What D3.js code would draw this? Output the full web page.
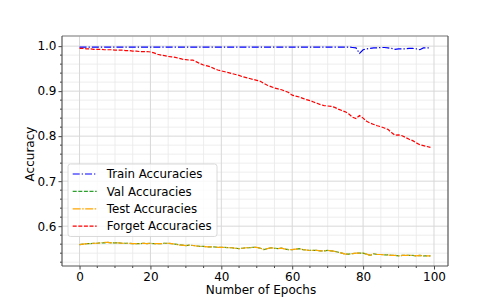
<!DOCTYPE html>
<html>
<head>
<meta charset="utf-8">
<script src="https://cdn.jsdelivr.net/npm/d3@7"></script>
<style>
  body { margin: 0; background: #fff; }
  text { font-family: "DejaVu Sans", sans-serif; }
</style>
</head>
<body>
<div id="chart"></div>
<script>
// ---- data ----
var epochs = d3.range(0, 100);

var trainAcc = [
  0.998,0.998,0.998,0.998,0.998,0.998,0.998,0.998,0.998,0.998,
  0.998,0.998,0.998,0.998,0.998,0.998,0.998,0.998,0.998,0.998,
  0.998,0.998,0.998,0.998,0.998,0.998,0.998,0.998,0.998,0.998,
  0.998,0.998,0.998,0.998,0.998,0.998,0.998,0.998,0.998,0.998,
  0.998,0.998,0.998,0.998,0.998,0.998,0.998,0.998,0.998,0.998,
  0.998,0.998,0.998,0.998,0.998,0.998,0.998,0.998,0.998,0.998,
  0.998,0.998,0.998,0.998,0.998,0.998,0.998,0.998,0.998,0.998,
  0.998,0.998,0.998,0.998,0.998,0.998,0.998,0.997,0.996,0.984,
  0.992,0.994,0.995,0.996,0.996,0.997,0.997,0.996,0.995,0.993,
  0.994,0.994,0.994,0.995,0.995,0.994,0.992,0.996,0.996,0.996
];

var valAcc = [
  0.559,0.560,0.561,0.561,0.562,0.562,0.563,0.563,0.564,0.563,
  0.563,0.563,0.562,0.562,0.562,0.561,0.561,0.561,0.562,0.561,
  0.562,0.561,0.561,0.561,0.562,0.562,0.561,0.560,0.559,0.558,
  0.557,0.558,0.557,0.556,0.555,0.555,0.554,0.554,0.554,0.553,
  0.553,0.553,0.552,0.552,0.551,0.550,0.551,0.552,0.552,0.553,
  0.553,0.551,0.548,0.550,0.552,0.551,0.550,0.551,0.549,0.548,
  0.548,0.549,0.550,0.548,0.547,0.546,0.546,0.546,0.545,0.545,
  0.546,0.545,0.544,0.542,0.540,0.538,0.538,0.539,0.540,0.540,
  0.540,0.538,0.535,0.539,0.537,0.537,0.536,0.536,0.535,0.535,
  0.534,0.535,0.535,0.535,0.535,0.534,0.535,0.534,0.534,0.534
];

var testAcc = [
  0.559,0.560,0.561,0.561,0.562,0.562,0.563,0.564,0.564,0.563,
  0.563,0.563,0.562,0.562,0.562,0.561,0.561,0.561,0.562,0.561,
  0.562,0.561,0.561,0.561,0.562,0.562,0.561,0.560,0.558,0.558,
  0.557,0.558,0.557,0.556,0.555,0.555,0.554,0.554,0.554,0.553,
  0.553,0.553,0.552,0.552,0.551,0.550,0.551,0.552,0.552,0.553,
  0.553,0.551,0.548,0.550,0.552,0.551,0.550,0.551,0.549,0.548,
  0.548,0.549,0.550,0.548,0.547,0.546,0.546,0.546,0.545,0.545,
  0.546,0.545,0.544,0.542,0.540,0.538,0.538,0.539,0.540,0.540,
  0.540,0.538,0.535,0.539,0.537,0.537,0.536,0.536,0.535,0.535,
  0.534,0.535,0.535,0.535,0.535,0.534,0.535,0.534,0.534,0.534
];

var forgetAcc = [
  0.995,0.995,0.994,0.994,0.993,0.993,0.993,0.992,0.992,0.992,
  0.991,0.991,0.991,0.990,0.990,0.989,0.989,0.988,0.988,0.988,
  0.987,0.985,0.982,0.980,0.979,0.977,0.976,0.975,0.973,0.971,
  0.970,0.969,0.969,0.965,0.961,0.958,0.956,0.954,0.950,0.947,
  0.945,0.943,0.941,0.939,0.937,0.935,0.932,0.930,0.928,0.926,
  0.924,0.922,0.917,0.913,0.910,0.907,0.905,0.903,0.900,0.897,
  0.891,0.889,0.887,0.884,0.881,0.879,0.876,0.873,0.870,0.868,
  0.867,0.866,0.864,0.860,0.857,0.854,0.849,0.842,0.839,0.846,
  0.840,0.833,0.829,0.826,0.823,0.821,0.818,0.815,0.808,0.802,
  0.803,0.801,0.797,0.793,0.790,0.785,0.781,0.779,0.777,0.775
];

var xTicks = [0, 20, 40, 60, 80, 100];
var yTicks = [0.6, 0.7, 0.8, 0.9, 1.0];

var series = [
  { name: "Train Accuracies",  values: trainAcc,  color: "#0000ff", dash: "7,2,1.3,2" },
  { name: "Val Accuracies",    values: valAcc,    color: "#2ca02c", dash: "4,1.6" },
  { name: "Test Accuracies",   values: testAcc,   color: "#ffa500", dash: "8,1.5,1.5,1.5" },
  { name: "Forget Accuracies", values: forgetAcc, color: "#ff0000", dash: "4,1.6" }
];

// ---- layout ----
var svgWidth = 498, svgHeight = 299;
var margin = { top: 36, right: 50, bottom: 33, left: 62 };
var width = svgWidth - margin.left - margin.right;
var height = svgHeight - margin.top - margin.bottom;

var svg = d3.select("#chart").append("svg")
  .attr("width", svgWidth)
  .attr("height", svgHeight);

var g = svg.append("g")
  .attr("transform", `translate(${margin.left},${margin.top})`);

var xScale = d3.scaleLinear().domain([-4.95, 103.95]).range([0, width]);
var yScale = d3.scaleLinear().domain([0.5115, 1.0225]).range([height, 0]);

// grid: minor then major
var xMinor = d3.range(0, 101, 5).filter(v => v % 20 !== 0);
var yMinor = d3.range(0.52, 1.02, 0.02).filter(v => Math.abs(v * 10 - Math.round(v * 10)) > 1e-6);

g.append("g").selectAll("line").data(xMinor).enter().append("line")
  .attr("x1", d => xScale(d)).attr("x2", d => xScale(d))
  .attr("y1", 0).attr("y2", height)
  .attr("stroke", "#e8e8e8").attr("stroke-width", 0.8);
g.append("g").selectAll("line").data(yMinor).enter().append("line")
  .attr("x1", 0).attr("x2", width)
  .attr("y1", d => yScale(d)).attr("y2", d => yScale(d))
  .attr("stroke", "#e8e8e8").attr("stroke-width", 0.8);
g.append("g").selectAll("line").data(xTicks).enter().append("line")
  .attr("x1", d => xScale(d)).attr("x2", d => xScale(d))
  .attr("y1", 0).attr("y2", height)
  .attr("stroke", "#d8d8d8").attr("stroke-width", 1);
g.append("g").selectAll("line").data(yTicks).enter().append("line")
  .attr("x1", 0).attr("x2", width)
  .attr("y1", d => yScale(d)).attr("y2", d => yScale(d))
  .attr("stroke", "#d8d8d8").attr("stroke-width", 1);

// lines
var line = d3.line()
  .x((d, i) => xScale(epochs[i]))
  .y(d => yScale(d));

series.forEach(s => {
  g.append("path")
    .datum(s.values)
    .attr("fill", "none")
    .attr("stroke", s.color)
    .attr("stroke-width", 1.2)
    .attr("stroke-dasharray", s.dash)
    .attr("d", line);
});

// axes
var xAxis = d3.axisBottom(xScale).tickValues(xTicks).tickSize(3.5).tickPadding(3).tickFormat(d3.format("d"));
var yAxis = d3.axisLeft(yScale).tickValues(yTicks).tickSize(3.5).tickPadding(2).tickFormat(d3.format(".1f"));

var xAxisG = g.append("g").attr("transform", `translate(0,${height})`).call(xAxis);
var yAxisG = g.append("g").call(yAxis);

[xAxisG, yAxisG].forEach(a => {
  a.select(".domain").remove();
  a.selectAll("line").attr("stroke", "#444");
  a.selectAll("text").attr("font-size", "12px").attr("fill", "#000")
    .style("font-family", "'DejaVu Sans', sans-serif");
});

// minor ticks
g.append("g").selectAll("line").data(xMinor).enter().append("line")
  .attr("x1", d => xScale(d)).attr("x2", d => xScale(d))
  .attr("y1", height).attr("y2", height + 2)
  .attr("stroke", "#444");
g.append("g").selectAll("line").data(yMinor).enter().append("line")
  .attr("x1", 0).attr("x2", -2)
  .attr("y1", d => yScale(d)).attr("y2", d => yScale(d))
  .attr("stroke", "#444");

// spines
g.append("line").attr("x1", 0).attr("x2", width).attr("y1", 0).attr("y2", 0)
  .attr("stroke", "#a0a0a0").attr("stroke-width", 1.6);
g.append("line").attr("x1", width).attr("x2", width).attr("y1", 0).attr("y2", height)
  .attr("stroke", "#555").attr("stroke-width", 1.2);
g.append("line").attr("x1", 0).attr("x2", 0).attr("y1", 0).attr("y2", height)
  .attr("stroke", "#555").attr("stroke-width", 1.2);
g.append("line").attr("x1", 0).attr("x2", width).attr("y1", height).attr("y2", height)
  .attr("stroke", "#555").attr("stroke-width", 1.2);

// axis titles
g.append("text")
  .attr("x", width / 2 + 6)
  .attr("y", height + 28)
  .attr("text-anchor", "middle")
  .attr("font-size", "12px")
  .text("Number of Epochs");

g.append("text")
  .attr("transform", "rotate(-90)")
  .attr("x", -(height / 2) - 3)
  .attr("y", -28)
  .attr("text-anchor", "middle")
  .attr("font-size", "12px")
  .text("Accuracy");

// legend
var legend = g.append("g").attr("transform", "translate(6,128)");
legend.append("rect")
  .attr("width", 149).attr("height", 72.5)
  .attr("rx", 2.5)
  .attr("fill", "#fff").attr("fill-opacity", 0.8)
  .attr("stroke", "#d0d0d0").attr("stroke-width", 0.8);

var item = legend.selectAll(".item").data(series).enter().append("g")
  .attr("transform", (d, i) => `translate(0,${10 + i * 17.4})`);
item.append("line")
  .attr("x1", 4.7).attr("x2", 28.7)
  .attr("stroke", d => d.color)
  .attr("stroke-width", 1.2)
  .attr("stroke-dasharray", d => d.dash);
item.append("text")
  .attr("x", 38.7).attr("y", 4.2)
  .attr("font-size", "11.8px")
  .text(d => d.name);
</script>
</body>
</html>
